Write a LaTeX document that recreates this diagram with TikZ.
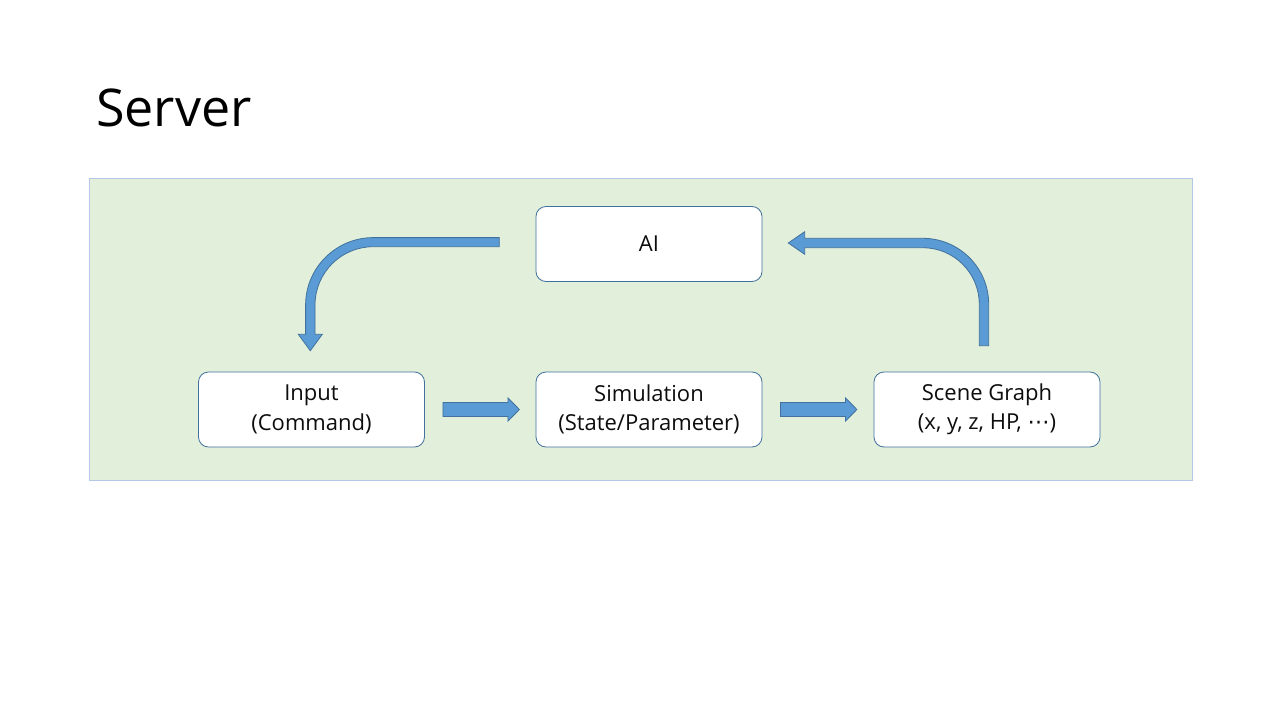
\documentclass[tikz,border=0pt]{standalone}
\usepackage{fontspec}
\setmainfont{Open Sans}
\newfontfamily\symfont{DejaVu Sans}
\usetikzlibrary{calc}
\definecolor{panelfill}{HTML}{E2EFDA}
\definecolor{paneledge}{HTML}{B4C7E7}
\definecolor{boxedge}{HTML}{41719C}
\definecolor{arrfill}{HTML}{5B9BD5}
\definecolor{arredge}{HTML}{41719C}
\definecolor{txt}{HTML}{0D0D0D}
\tikzset{
  stagebox/.style={draw=boxedge, line width=0.8pt, fill=white, rounded corners=10pt,
    minimum width=226pt, minimum height=75pt, inner sep=0pt, align=center,
    text=txt, font=\fontsize{22}{29.5}\selectfont},
  blockarrow/.style={fill=arrfill, draw=arredge, line width=0.8pt, line join=miter},
}
\newcommand{\straightarr}[1]{%
  \draw[blockarrow] ($(#1)+(18,-7)$) -- ($(#1)+(83,-7)$) -- ($(#1)+(83,-11.7)$)
    -- ($(#1)+(94.5,0)$) -- ($(#1)+(83,11.7)$) -- ($(#1)+(83,7)$)
    -- ($(#1)+(18,7)$) -- cycle;}
\begin{document}
\begin{tikzpicture}[x=1pt,y=-1pt]
\useasboundingbox[fill=white] (0,0) rectangle (1280,720);
% title
\node[anchor=base west, inner sep=0pt, font=\fontsize{52}{60}\selectfont, text=black] (title) at (96,126) {Server};
% panel
\draw[fill=panelfill, draw=paneledge, line width=0.8pt] (89,178) rectangle (1192,480);
% boxes
\node[stagebox] (ai) at (649,244) {AI};
\node[stagebox] (input) at (311.5,409.5) {Input\\(Command)};
\node[stagebox] (sim) at (649,409.5) {Simulation\\(State/Parameter)};
\node[stagebox] (scene) at (987,409.5) {Scene Graph\\(x, y, z, HP, {\symfont ⋯})};
% straight arrows
\straightarr{input.east}
\straightarr{sim.east}
% bent arrow AI -> Input
\draw[blockarrow] (499.3,237.6) -- (373.3,237.6)
  .. controls (336.1,237.6) and (305.6,267.8) .. (305.6,305)
  -- (305.6,334.3) -- (298.3,334.3) -- (310.3,350.7) -- (322.3,334.3)
  -- (315,334.3) -- (315,305)
  .. controls (315,272.8) and (341.1,246.7) .. (373.3,246.7)
  -- (499.3,246.7) -- cycle;
% bent arrow Scene Graph -> AI
\draw[blockarrow] (979.3,345.7) -- (979.3,304.3)
  .. controls (979.3,273) and (954,247.7) .. (922.7,247.7)
  -- (804.7,247.7) -- (804.7,254.3) -- (788.3,243) -- (804.7,231.7)
  -- (804.7,238.3) -- (922.7,238.3)
  .. controls (959.2,238.3) and (988.7,267.8) .. (988.7,304.3)
  -- (988.7,345.7) -- cycle;
\end{tikzpicture}
\end{document}
